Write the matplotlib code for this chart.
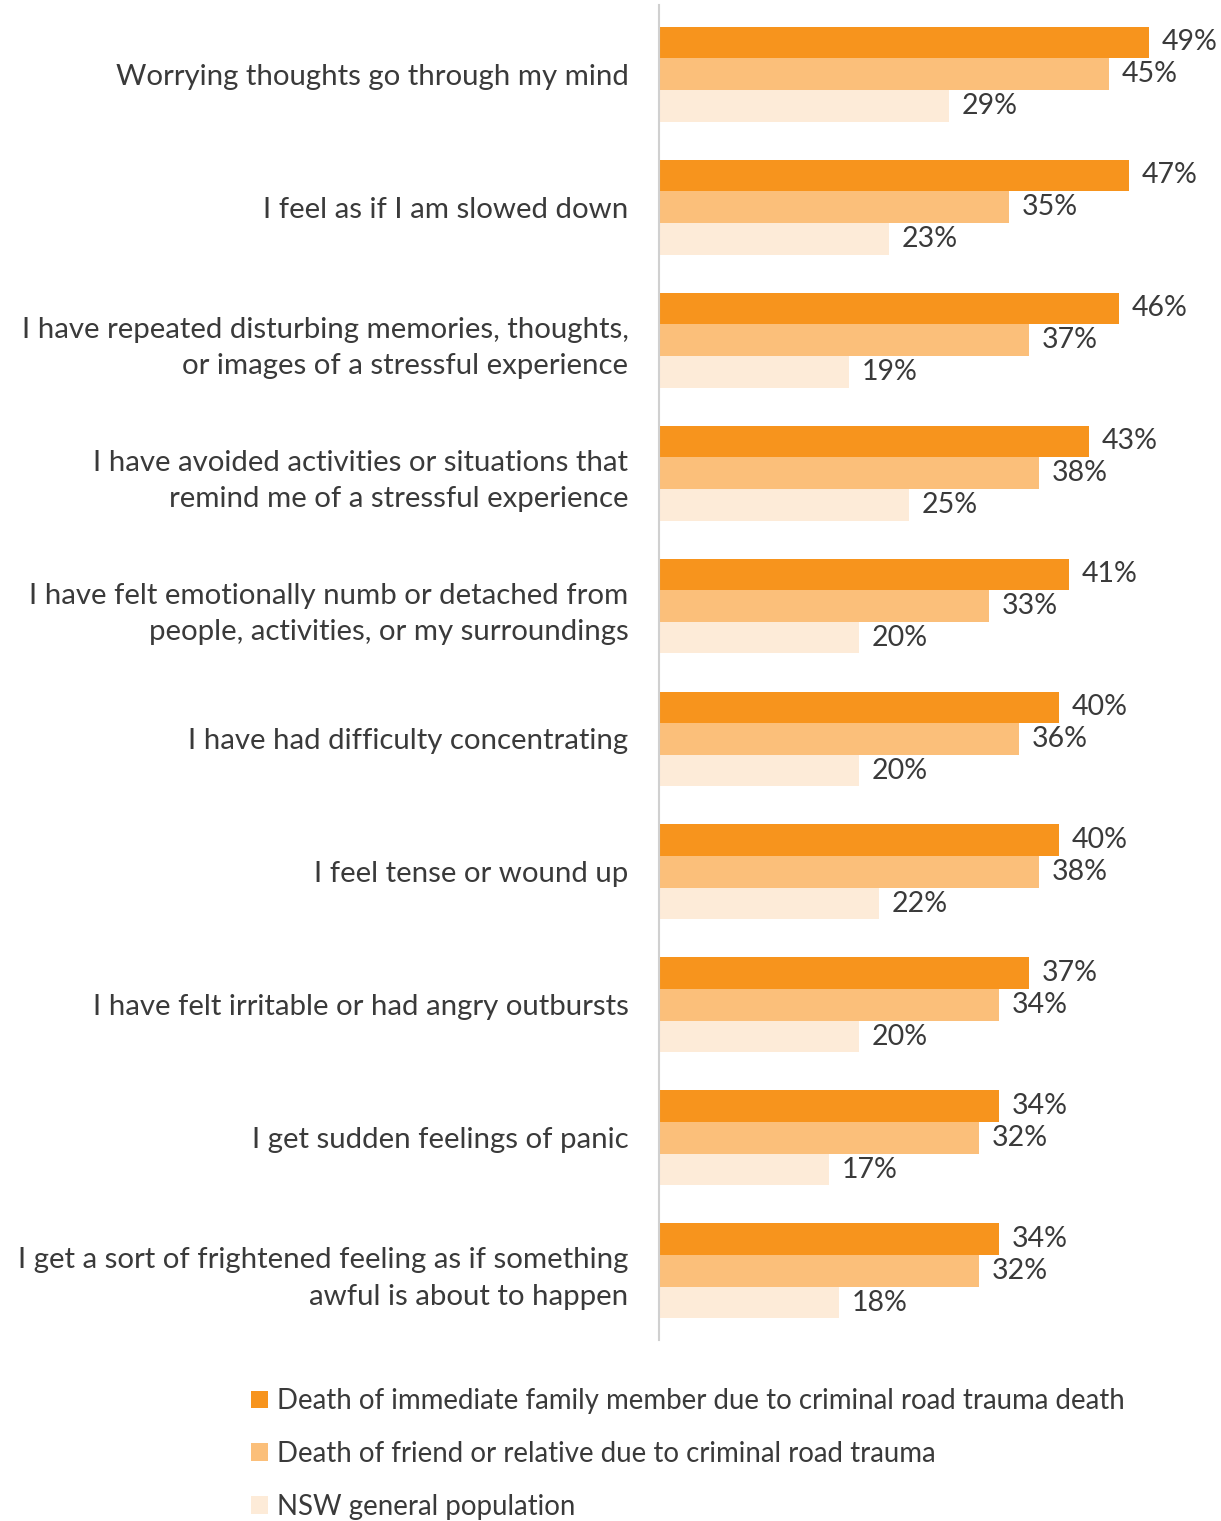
import matplotlib.pyplot as plt
import numpy as np
from matplotlib.patches import Patch

plt.rcParams['font.family'] = ['Lato', 'DejaVu Sans']

statements = [
    "Worrying thoughts go through my mind",
    "I feel as if I am slowed down",
    "I have repeated disturbing memories, thoughts,\nor images of a stressful experience",
    "I have avoided activities or situations that\nremind me of a stressful experience",
    "I have felt emotionally numb or detached from\npeople, activities, or my surroundings",
    "I have had difficulty concentrating",
    "I feel tense or wound up",
    "I have felt irritable or had angry outbursts",
    "I get sudden feelings of panic",
    "I get a sort of frightened feeling as if something\nawful is about to happen",
]
family = [49, 47, 46, 43, 41, 40, 40, 37, 34, 34]
friend = [45, 35, 37, 38, 33, 36, 38, 34, 32, 32]
nsw_pop = [29, 23, 19, 25, 20, 20, 22, 20, 17, 18]

series_names = [
    "Death of immediate family member due to criminal road trauma death",
    "Death of friend or relative due to criminal road trauma",
    "NSW general population",
]
colors = ["#F7941D", "#FBBF7A", "#FDEBD8"]
text_color = "#3a3a3a"

fig = plt.figure(figsize=(12.21, 15.21), dpi=100)
ax = fig.add_axes([659 / 1221, 1 - 1340 / 1521, 1 - 659 / 1221, (1340 - 5) / 1521])

y = np.arange(len(statements))
h = 0.238
for k, (vals, col) in enumerate(zip([family, friend, nsw_pop], colors)):
    pos = y + (k - 1) * h
    ax.barh(pos, vals, height=h, color=col, edgecolor='none')
    for p, v in zip(pos, vals):
        ax.text(v + 1.3, p, f"{v}%", va='center', ha='left',
                fontsize=20.5, color=text_color)

ax.set_xlim(0, 56.2)
ax.set_ylim(9.52, -0.52)
ax.set_yticks(y)
ax.set_yticklabels(statements, fontsize=21.2, color=text_color, linespacing=1.52)
ax.tick_params(axis='y', length=0, pad=22)
ax.set_xticks([])
for s in ['top', 'right', 'bottom']:
    ax.spines[s].set_visible(False)
ax.spines['left'].set_color('#d0d0d0')
ax.spines['left'].set_linewidth(1.5)
for lbl in ax.get_yticklabels():
    lbl.set_multialignment('right')

handles = [Patch(facecolor=c, edgecolor='none') for c in colors]
fig.legend(handles, series_names, loc='upper left',
           bbox_to_anchor=(240 / 1221, 1 - 1377 / 1521), frameon=False,
           fontsize=19.9, labelcolor=text_color, handlelength=0.6, handleheight=0.6,
           handletextpad=0.35, labelspacing=0.97, borderaxespad=0)

fig.savefig("out.png", dpi=100)
